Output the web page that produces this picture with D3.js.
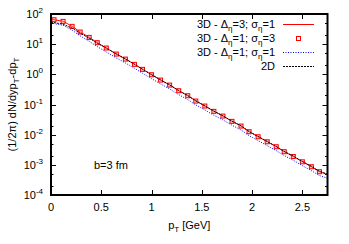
<!DOCTYPE html>
<html>
<head>
<meta charset="utf-8">
<script src="https://cdn.jsdelivr.net/npm/d3@7"></script>
<style>
  body { margin: 0; background: #fff; }
  text { font-family: "Liberation Sans", Arial, sans-serif; fill: #000; }
</style>
</head>
<body>
<div class="chart"></div>
<script>
// pT grid (GeV) shared by the three curves
var ptLine = [0, 0.03, 0.12, 0.21, 0.29, 0.38, 0.46, 0.55, 0.65, 0.74, 0.83, 0.91, 1.00, 1.09, 1.18, 1.27,
    1.36, 1.44, 1.53, 1.62, 1.71, 1.80, 1.89, 1.97, 2.06, 2.15, 2.24, 2.32, 2.41, 2.50, 2.59, 2.67, 2.75];

// 3D - deta=3; sigma=1 (red solid)
var red31 = [71, 64.7, 57.3, 39.1, 25.3, 16.9, 11.2, 7.46, 4.72, 3.22, 2.15, 1.47, 0.973, 0.649, 0.443, 0.287,
    0.196, 0.131, 0.0893, 0.0596, 0.0416, 0.0277, 0.0194, 0.01256, 0.00857, 0.00585, 0.0040, 0.00273, 0.00190,
    0.00127, 0.000868, 0.000593, 0.00048];

// 3D - deta=1; sigma=1 (blue dotted)
var blue11 = [52, 48, 42.5, 29, 18.8, 12.5, 8.3, 5.5, 3.5, 2.38, 1.59, 1.09, 0.72, 0.48, 0.328, 0.212,
    0.145, 0.097, 0.066, 0.044, 0.0307, 0.0205, 0.0143, 0.0093, 0.00634, 0.00432, 0.00296, 0.00202, 0.00141,
    0.00094, 0.00064, 0.00044, 0.00036];

// 2D (black dashed)
var black2d = [54, 52, 46, 34, 23, 15.8, 10.8, 7.4, 4.75, 3.25, 2.17, 1.48, 0.98, 0.655, 0.448, 0.29,
    0.198, 0.133, 0.0905, 0.0604, 0.0422, 0.0281, 0.0197, 0.01278, 0.00873, 0.00596, 0.00408, 0.00279, 0.00194,
    0.0013, 0.00089, 0.00061, 0.00049];

// 3D - deta=1; sigma=3 (red open squares)
var ptSq = [0.03, 0.12, 0.21, 0.29, 0.38, 0.46, 0.55, 0.65, 0.74, 0.83, 0.91, 1.00, 1.09, 1.18, 1.27,
    1.36, 1.44, 1.53, 1.62, 1.71, 1.80, 1.89, 1.97, 2.06, 2.15, 2.24, 2.32, 2.41, 2.50, 2.59, 2.67];
var sq13 = [64.5, 57, 39, 25.2, 16.8, 11.2, 7.45, 4.7, 3.2, 2.14, 1.46, 0.97, 0.645, 0.44, 0.286,
    0.195, 0.13, 0.0888, 0.0593, 0.0414, 0.0276, 0.0193, 0.0125, 0.00853, 0.00582, 0.00398, 0.00272, 0.00189,
    0.00126, 0.000865, 0.00059];

var xTicks = [0, 0.5, 1, 1.5, 2, 2.5];
var xTickLabels = ["0", "0.5", "1", "1.5", "2", "2.5"];
var yTicks = [1e2, 1e1, 1e0, 1e-1, 1e-2, 1e-3, 1e-4];
var yTickExp = ["2", "1", "0", "-1", "-2", "-3", "-4"];

var W = 349, H = 244;
var margin = { top: 14, right: 21.5, bottom: 49, left: 51 };
var width = W - margin.left - margin.right,
    height = H - margin.top - margin.bottom;

var svg = d3.select(".chart").append("svg")
    .attr("width", W)
    .attr("height", H);

var g = svg.append("g")
    .attr("transform", "translate(" + margin.left + "," + margin.top + ")");

var x = d3.scaleLinear().domain([0, 2.75]).range([0, width]);
var y = d3.scaleLog().domain([1e-4, 1e2]).range([height, 0]);

// ticks (inward, mirrored)
var tickG = g.append("g").attr("stroke", "#000").attr("stroke-width", 1);
xTicks.forEach(function(t){
    var px = Math.round(x(t)) + 0.5;
    tickG.append("line").attr("x1", px).attr("x2", px).attr("y1", height).attr("y2", height - 5);
    tickG.append("line").attr("x1", px).attr("x2", px).attr("y1", 0).attr("y2", 5);
});
yTicks.forEach(function(t){
    var py = Math.round(y(t)) + 0.5;
    tickG.append("line").attr("x1", 0).attr("x2", 5).attr("y1", py).attr("y2", py);
    tickG.append("line").attr("x1", width).attr("x2", width - 5).attr("y1", py).attr("y2", py);
});
// minor ticks at 2 and 5 per decade
yTicks.slice(1).forEach(function(t){
    [2, 5].forEach(function(m){
        var py = Math.round(y(t * m)) + 0.5;
        tickG.append("line").attr("x1", 0).attr("x2", 2.5).attr("y1", py).attr("y2", py);
        tickG.append("line").attr("x1", width).attr("x2", width - 2.5).attr("y1", py).attr("y2", py);
    });
});

// tick labels
g.selectAll("text.xt")
    .data(xTicks)
    .enter().append("text")
    .attr("class", "xt")
    .attr("x", function(d){ return x(d); })
    .attr("y", height + 16)
    .attr("text-anchor", "middle")
    .attr("font-size", 11)
    .text(function(d, i){ return xTickLabels[i]; });

var yl = g.selectAll("text.yt")
    .data(yTicks)
    .enter().append("text")
    .attr("class", "yt")
    .attr("x", -8)
    .attr("y", function(d){ return y(d) + 4; })
    .attr("text-anchor", "end")
    .attr("font-size", 11);
yl.append("tspan").text("10");
yl.append("tspan").attr("dy", -5).attr("font-size", 8).text(function(d, i){ return yTickExp[i]; });

// curves
var clip = g.append("clipPath").attr("id", "clip")
    .append("rect").attr("width", width).attr("height", height);
var plot = g.append("g").attr("clip-path", "url(#clip)");

var line = d3.line()
    .x(function(d){ return x(d[0]); })
    .y(function(d){ return y(d[1]); });

plot.append("path")
    .datum(d3.zip(ptLine, red31))
    .attr("d", line)
    .attr("fill", "none")
    .attr("stroke", "#ff0000")
    .attr("stroke-width", 1);

plot.selectAll("rect.sq")
    .data(d3.zip(ptSq, sq13))
    .enter().append("rect")
    .attr("class", "sq")
    .attr("x", function(d){ return x(d[0]) - 2; })
    .attr("y", function(d){ return y(d[1]) - 2; })
    .attr("width", 4)
    .attr("height", 4)
    .attr("fill", "#ff9999")
    .attr("fill-opacity", 0.5)
    .attr("stroke", "#ff0000")
    .attr("stroke-width", 1);

plot.append("path")
    .datum(d3.zip(ptLine, blue11))
    .attr("d", line)
    .attr("fill", "none")
    .attr("stroke", "#0000ff")
    .attr("stroke-width", 1)
    .attr("stroke-dasharray", "1,1.5");

plot.append("path")
    .datum(d3.zip(ptLine, black2d))
    .attr("d", line)
    .attr("fill", "none")
    .attr("stroke", "#000")
    .attr("stroke-width", 1)
    .attr("stroke-dasharray", "2,1");

// frame
g.append("rect")
    .attr("width", width)
    .attr("height", height)
    .attr("fill", "none")
    .attr("stroke", "#000")
    .attr("stroke-width", 2);

// legend
var leg = [
    { d: "3", s: "1", type: "line", color: "#ff0000", dash: null },
    { d: "1", s: "3", type: "sq", color: "#ff0000", dash: null },
    { d: "1", s: "1", type: "line", color: "#0000ff", dash: "1,1.5" },
    { label: "2D", type: "line", color: "#000", dash: "2,1" }
];
leg.forEach(function(l, i){
    var cy = 24 + i * 14;
    var t = svg.append("text")
        .attr("x", 275)
        .attr("y", cy + 4)
        .attr("text-anchor", "end")
        .attr("font-size", 11);
    if (l.label) {
        t.text(l.label);
    } else {
        t.append("tspan").text("3D - \u0394");
        t.append("tspan").attr("dy", 3).attr("font-size", 8).text("\u03b7");
        t.append("tspan").attr("dy", -3).text("=" + l.d + "; \u03c3");
        t.append("tspan").attr("dy", 3).attr("font-size", 8).text("\u03b7");
        t.append("tspan").attr("dy", -3).text("=" + l.s);
    }
    if (l.type === "sq") {
        svg.append("rect")
            .attr("x", 296.5).attr("y", cy - 1.5)
            .attr("width", 4).attr("height", 4)
            .attr("fill", "none")
            .attr("stroke", l.color);
    } else {
        svg.append("line")
            .attr("x1", 283).attr("x2", 314)
            .attr("y1", cy + 0.5).attr("y2", cy + 0.5)
            .attr("stroke", l.color)
            .attr("stroke-dasharray", l.dash);
    }
});

// annotation
svg.append("text")
    .attr("x", 94)
    .attr("y", 169)
    .attr("font-size", 11)
    .text("b=3 fm");

// axis titles
var xt = svg.append("text")
    .attr("x", margin.left + width / 2)
    .attr("y", 229)
    .attr("text-anchor", "middle")
    .attr("font-size", 11);
xt.append("tspan").text("p");
xt.append("tspan").attr("dy", 3).attr("font-size", 8).text("T");
xt.append("tspan").attr("dy", -3).text(" [GeV]");

var yt = svg.append("text")
    .attr("transform", "translate(16," + (margin.top + height / 2) + ") rotate(-90)")
    .attr("text-anchor", "middle")
    .attr("font-size", 11);
yt.append("tspan").text("(1/2\u03c0) dN/dyp");
yt.append("tspan").attr("dy", 3).attr("font-size", 8).text("T");
yt.append("tspan").attr("dy", -3).text("-dp");
yt.append("tspan").attr("dy", 3).attr("font-size", 8).text("T");
</script>
</body>
</html>
